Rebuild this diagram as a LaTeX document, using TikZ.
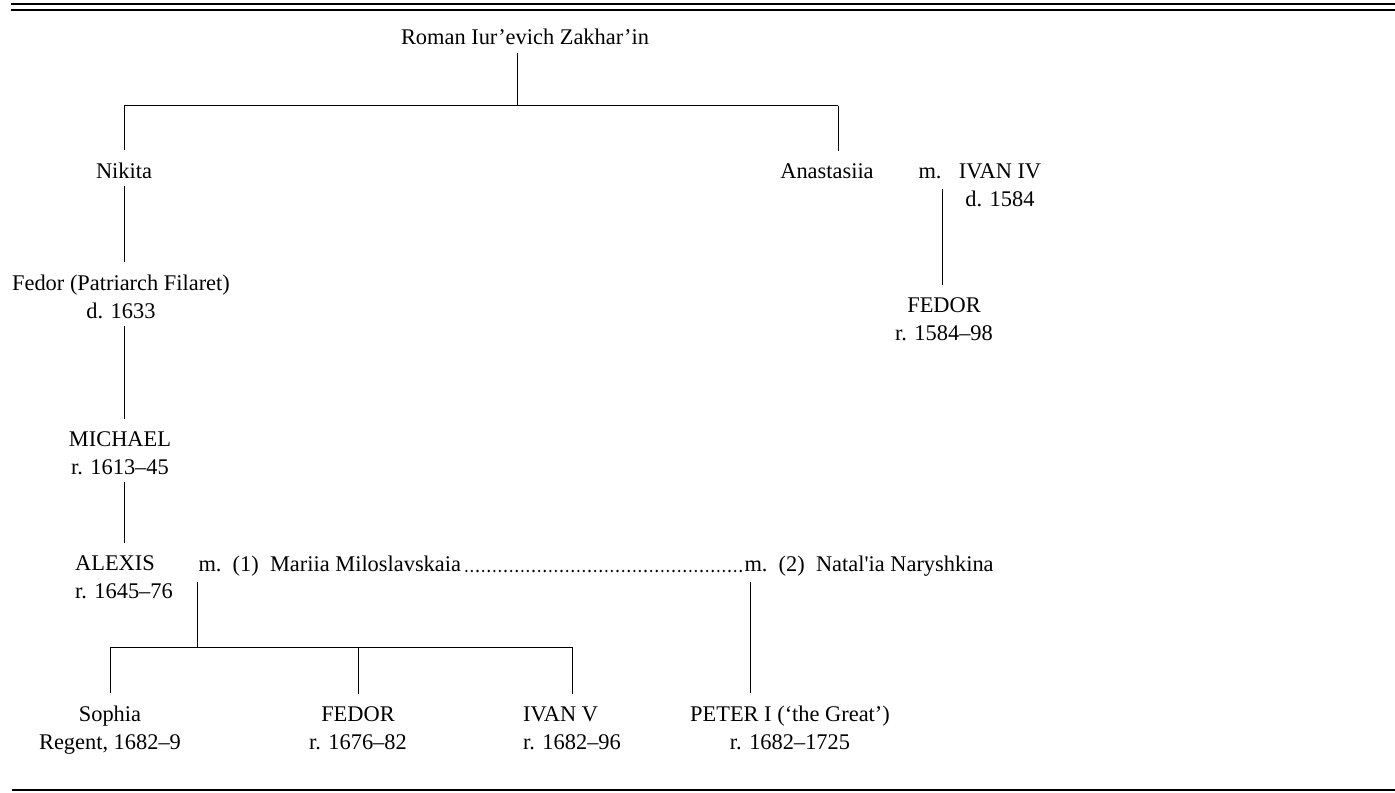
\documentclass[tikz,border=0pt]{standalone}
\usepackage{fontspec}
\setmainfont{Liberation Serif}

\begin{document}
\begin{tikzpicture}[x=0.5pt, y=-0.5pt, line width=0.5pt,
    every node/.style={anchor=base, align=center, inner xsep=1pt, inner ysep=3.5pt,
      font=\fontsize{11.2}{13.8}\selectfont},
    descent/.style={shorten >=2.5pt},
    dot leader/.style={line width=1.3pt, line cap=round, dash pattern=on 0pt off 2.8pt,
      yshift=0.65pt, shorten <=1.4pt},
    rule/.style={line width=0.9pt}]
    \useasboundingbox (0,0) rectangle (1395,792);
    \draw[rule] (11,4) -- (1395,4);
    \draw[rule] (11,10) -- (1395,10);
    \draw[rule] (12,790) -- (1395,790);
    % names (a node of two lines sits on its last baseline)
    \node (roman)        at (525,45)   {Roman Iur’evich Zakhar’in};
    \node (nikita)       at (124,178)  {Nikita};
    \node (anastasiia)   at (827,178)  {Anastasiia};
    \node (m ivan)       at (930,178)  {m.};
    \node (ivan iv)      at (1000,206) {IVAN IV\\d. 1584};
    \node (fedor r1)     at (944,340)  {FEDOR\\r. 1584--98};
    \node (filaret)      at (121,318)  {Fedor (Patriarch Filaret)\\d. 1633};
    \node (michael)      at (120,474)  {MICHAEL\\r. 1613--45};
    \node[align=left] (alexis) at (124,598) {ALEXIS\\r. 1645--76};
    \node[anchor=base west] (m mariia)  at (196,571) {m.\ \ (1)\ \ Mariia Miloslavskaia};
    \node[anchor=base west] (m natalia) at (742,571) {m.\ \ (2)\ \ Natal\textquotesingle ia Naryshkina};
    \node (sophia)       at (110,749)  {Sophia\\Regent, 1682--9};
    \node (fedor r2)     at (358,749)  {FEDOR\\r. 1676--82};
    \node[align=left] (ivan v) at (572,749) {IVAN V\\r. 1682--96};
    \node (peter)        at (790,749)  {PETER I (‘the Great’)\\r. 1682--1725};
    % junctions
    \coordinate (bar top)        at (517,106);
    \coordinate (bar nikita)     at (124,106);
    \coordinate (bar anastasiia) at (838,106);
    \coordinate (ivan marriage)  at (942,189);
    \coordinate (mariia issue)   at (197,582);
    \coordinate (natalia issue)  at (750,582);
    \coordinate (bar children)   at (197,647);
    \coordinate (bar sophia)     at (110,647);
    \coordinate (bar fedor)      at (358,647);
    \coordinate (bar ivan)       at (572,647);
    % lines of descent
    \draw (roman.south -| bar top) -- (bar top);
    \draw (bar nikita) -- (bar anastasiia);
    \draw[descent] (bar nikita) -- (nikita.north);
    \draw[descent] (bar anastasiia) -- (bar anastasiia |- anastasiia.north);
    \draw[descent] (nikita.south) -- (nikita.south |- filaret.north);
    \draw[descent] (filaret.south -| nikita) -- (michael.north -| nikita);
    \draw[descent] (michael.south -| nikita) -- (alexis.north -| nikita);
    \draw[descent] (ivan marriage) -- (ivan marriage |- fedor r1.north);
    \draw[dot leader] (m mariia.base east) -- (m natalia.base west);
    \draw (mariia issue) -- (bar children);
    \draw (bar sophia) -- (bar ivan);
    \draw[descent] (bar sophia) -- (sophia.north);
    \draw[descent] (bar fedor) -- (fedor r2.north);
    \draw[descent] (bar ivan) -- (ivan v.north);
    \draw[descent] (natalia issue) -- (natalia issue |- peter.north);
\end{tikzpicture}
\end{document}
